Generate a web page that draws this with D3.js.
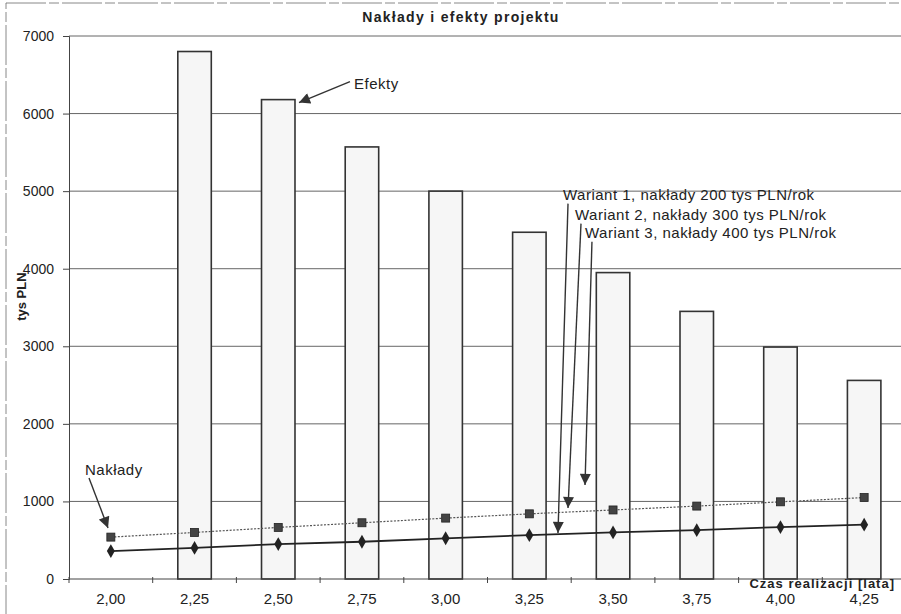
<!DOCTYPE html>
<html>
<head>
<meta charset="utf-8">
<script src="https://cdn.jsdelivr.net/npm/d3@7"></script>
<style>
  body { margin: 0; background: #fff; }
  svg text { font-family: Arial, "Liberation Sans", sans-serif; fill: #222; }
</style>
</head>
<body>
<div id="chart"></div>
<script>
// categories on the x axis (czas realizacji)
var categories = ["2,00", "2,25", "2,50", "2,75", "3,00", "3,25", "3,50", "3,75", "4,00", "4,25"];
// Efekty (bars), no bar for 2,00
var efekty = [0, 6800, 6180, 5570, 5000, 4470, 3950, 3450, 2990, 2560];
// Naklady lines
var nakladyUpper = [540, 600, 665, 725, 785, 840, 890, 940, 995, 1050];
var nakladyLower = [360, 400, 450, 480, 525, 565, 600, 630, 670, 700];
var yTicks = [0, 1000, 2000, 3000, 4000, 5000, 6000, 7000];

// annotations in data units: x = fractional category index, y = value
var annotations = [
  {text: "Efekty", tx: 2.905, ty: 6323, x1: 2.857, y1: 6413, x2: 2.248, y2: 6142},
  {text: "Nakłady", tx: -0.309, ty: 1342, x1: -0.261, y1: 1303, x2: -0.034, y2: 658},
  {text: "Wariant 1, nakłady 200 tys PLN/rok", tx: 5.402, ty: 4890, x1: 5.462, y1: 4839, x2: 5.342, y2: 594},
  {text: "Wariant 2, nakłady 300 tys PLN/rok", tx: 5.545, ty: 4632, x1: 5.617, y1: 4581, x2: 5.462, y2: 916},
  {text: "Wariant 3, nakłady 400 tys PLN/rok", tx: 5.665, ty: 4400, x1: 5.748, y1: 4348, x2: 5.665, y2: 1213}
];

var width = 901, height = 614;
var margin = {top: 36, right: -5, bottom: 35, left: 69};

var svg = d3.select("#chart").append("svg")
    .attr("width", width)
    .attr("height", height);

// scanned page frame
svg.append("rect")
    .attr("x", 6).attr("y", 3)
    .attr("width", width).attr("height", height)
    .attr("fill", "none")
    .attr("stroke", "#888")
    .attr("stroke-dasharray", "40,3,10,3");

var defs = svg.append("defs");
defs.append("marker")
    .attr("id", "arrow")
    .attr("viewBox", "0 0 10 10")
    .attr("refX", 10).attr("refY", 5)
    .attr("markerWidth", 12).attr("markerHeight", 11)
    .attr("markerUnits", "userSpaceOnUse")
    .attr("orient", "auto")
  .append("path")
    .attr("d", "M0,0L10,5L0,10Z")
    .attr("fill", "#333");

var x = d3.scaleBand()
    .domain(categories)
    .range([margin.left, width - margin.right]);
var xi = d3.scaleLinear()
    .domain([-0.5, categories.length - 0.5])
    .range([margin.left, width - margin.right]);
var y = d3.scaleLinear()
    .domain([0, 7000])
    .range([height - margin.bottom, margin.top]);

// gridlines
svg.append("g")
  .selectAll("line")
  .data(yTicks.filter(function(d) { return d > 0; }))
  .enter().append("line")
    .attr("x1", margin.left).attr("x2", width)
    .attr("y1", function(d) { return y(d); })
    .attr("y2", function(d) { return y(d); })
    .attr("stroke", "#666")
    .attr("stroke-width", 1);

// bars
var barW = x.bandwidth() * 0.4;
svg.append("g")
  .selectAll("rect")
  .data(efekty.map(function(v, i) { return {c: categories[i], v: v}; }).filter(function(d) { return d.v > 0; }))
  .enter().append("rect")
    .attr("x", function(d) { return x(d.c) + x.bandwidth() / 2 - barW / 2; })
    .attr("y", function(d) { return y(d.v); })
    .attr("width", barW)
    .attr("height", function(d) { return y(0) - y(d.v); })
    .attr("fill", "#f6f6f6")
    .attr("stroke", "#333")
    .attr("stroke-width", 1.6);

// axes
var yAxis = svg.append("g")
    .attr("transform", "translate(" + margin.left + ",0)")
    .call(d3.axisLeft(y).tickValues(yTicks).tickFormat(d3.format("d")).tickSize(6).tickPadding(9));
yAxis.selectAll("text").style("font-size", "14px").attr("fill", "#222");
yAxis.selectAll("line, path").attr("stroke", "#444");

var xAxis = svg.append("g")
    .attr("transform", "translate(0," + y(0) + ")");
xAxis.append("line")
    .attr("x1", margin.left).attr("x2", width)
    .attr("stroke", "#444");
xAxis.selectAll(".tick")
  .data(categories)
  .enter().append("line")
    .attr("x1", function(d) { return x(d); })
    .attr("x2", function(d) { return x(d); })
    .attr("y1", -2).attr("y2", 4)
    .attr("stroke", "#444");
xAxis.selectAll("text")
  .data(categories)
  .enter().append("text")
    .attr("x", function(d) { return x(d) + x.bandwidth() / 2; })
    .attr("y", 25)
    .attr("text-anchor", "middle")
    .style("font-size", "15px")
    .text(function(d) { return d; });

// lines
var cx = function(d, i) { return x(categories[i]) + x.bandwidth() / 2; };
var line = d3.line().x(cx).y(function(d) { return y(d); });

svg.append("path")
    .datum(nakladyUpper)
    .attr("d", line)
    .attr("fill", "none")
    .attr("stroke", "#555")
    .attr("stroke-width", 1.2)
    .attr("stroke-dasharray", "2,1.5");
svg.append("path")
    .datum(nakladyLower)
    .attr("d", line)
    .attr("fill", "none")
    .attr("stroke", "#222")
    .attr("stroke-width", 1.8);

svg.append("g").selectAll("rect")
  .data(nakladyUpper)
  .enter().append("rect")
    .attr("x", function(d, i) { return cx(d, i) - 4; })
    .attr("y", function(d) { return y(d) - 4; })
    .attr("width", 8).attr("height", 8)
    .attr("fill", "#444")
    .attr("stroke", "#222")
    .attr("stroke-width", 0.8);
svg.append("g").selectAll("path")
  .data(nakladyLower)
  .enter().append("path")
    .attr("transform", function(d, i) { return "translate(" + cx(d, i) + "," + y(d) + ")"; })
    .attr("d", d3.symbol().type(d3.symbolDiamond).size(55))
    .attr("fill", "#222");

// annotations
var ann = svg.append("g");
ann.selectAll("line")
  .data(annotations)
  .enter().append("line")
    .attr("x1", function(d) { return xi(d.x1); })
    .attr("y1", function(d) { return y(d.y1); })
    .attr("x2", function(d) { return xi(d.x2); })
    .attr("y2", function(d) { return y(d.y2); })
    .attr("stroke", "#333")
    .attr("stroke-width", 1.4)
    .attr("marker-end", "url(#arrow)");
ann.selectAll("text")
  .data(annotations)
  .enter().append("text")
    .attr("x", function(d) { return xi(d.tx); })
    .attr("y", function(d) { return y(d.ty); })
    .style("font-size", "15px")
    .style("letter-spacing", "0.5px")
    .text(function(d) { return d.text; });

// titles
svg.append("text")
    .attr("x", 461).attr("y", 22)
    .attr("text-anchor", "middle")
    .style("font-size", "14px")
    .style("font-weight", "bold")
    .style("letter-spacing", "1.3px")
    .text("Nakłady i efekty projektu");

svg.append("text")
    .attr("x", width - 6).attr("y", y(0) + 9)
    .attr("text-anchor", "end")
    .style("font-size", "13px")
    .style("font-weight", "bold")
    .style("letter-spacing", "1px")
    .text("Czas realizacji [lata]");

svg.append("text")
    .attr("transform", "translate(26," + y(3640) + ") rotate(-90)")
    .attr("text-anchor", "middle")
    .style("font-size", "13px")
    .style("font-weight", "bold")
    .text("tys PLN");
</script>
</body>
</html>
